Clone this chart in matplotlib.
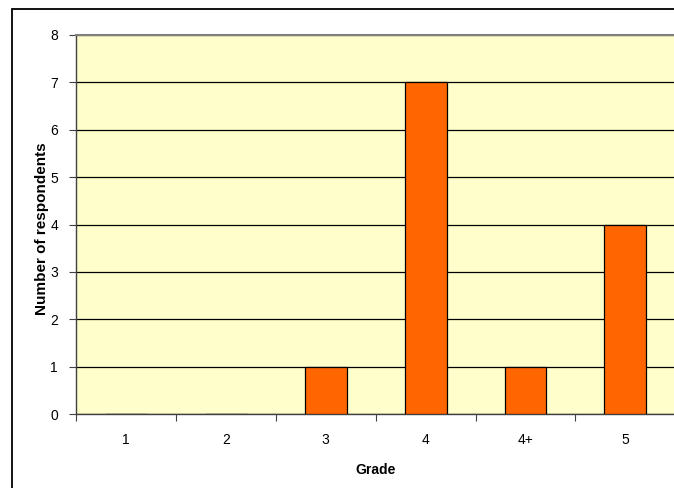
import matplotlib
matplotlib.use("Agg")
import matplotlib.pyplot as plt
import numpy as np
from matplotlib.patches import Rectangle

grades = ["1", "2", "3", "4", "4+", "5"]
respondents = [0, 0, 1, 7, 1, 4]

plt.rcParams['font.family'] = ['Liberation Sans', 'DejaVu Sans']

fig = plt.figure(figsize=(6.74, 4.88), dpi=100)
W, H = 674, 488

# chart frame, runs off the right and bottom edges
fig.patches.append(Rectangle((12 / W, -0.1), 1.2, 1 - 9 / H + 0.1,
                             transform=fig.transFigure, fill=False,
                             edgecolor="black", linewidth=1.3, zorder=0))

ax = fig.add_axes([76 / W, 1 - 414 / H, 1 - 76 / W + 0.002, (414 - 35) / H])
ax.set_facecolor("#FFFFCC")

x = np.arange(len(grades))
ax.bar(x, respondents, width=0.42, color="#FF6600", edgecolor="black",
       linewidth=0.9, zorder=3)

ax.set_xlim(-0.5, len(grades) - 0.5)
ax.set_ylim(0, 8)
ax.set_yticks(range(9))
ax.yaxis.grid(True, color="black", linewidth=0.9, zorder=0)
ax.set_axisbelow(True)

ax.set_xticks(x)
ax.set_xticklabels(grades)
ax.set_xticks(np.arange(-0.5, len(grades), 1), minor=True)
ax.tick_params(axis="x", which="major", length=0, pad=14, labelsize=10)
ax.tick_params(axis="x", which="minor", length=5, width=0.8, color="#404040")
ax.tick_params(axis="y", length=5, width=0.8, color="#404040", labelsize=10, pad=8)

for side in ["left", "bottom"]:
    ax.spines[side].set_color("#404040")
    ax.spines[side].set_linewidth(1.0)
ax.spines["top"].set_color("#808080")
ax.spines["top"].set_linewidth(1.5)
ax.spines["right"].set_visible(False)

ax.set_xlabel("Grade", fontsize=10, fontweight="bold", labelpad=11)
ax.set_ylabel("Number of respondents", fontsize=11, fontweight="bold")
ax.yaxis.set_label_coords(-0.045, 0.488)

fig.savefig("out.png", dpi=100)
